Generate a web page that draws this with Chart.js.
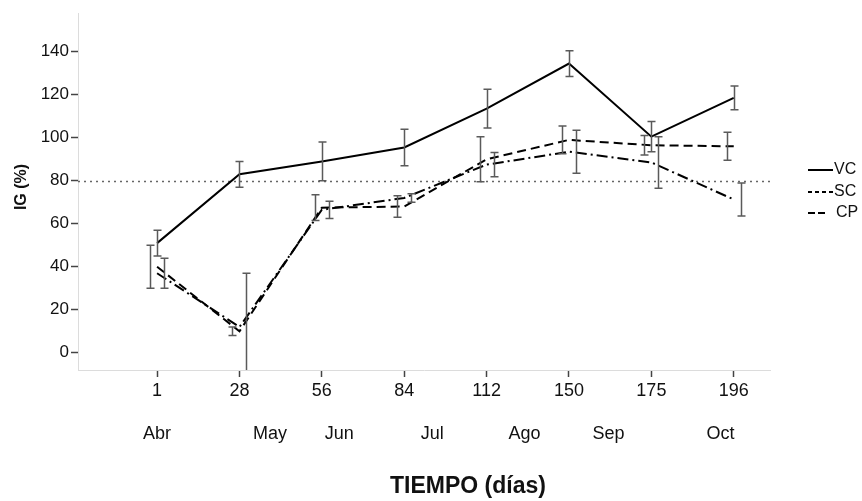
<!DOCTYPE html>
<html>
<head>
<meta charset="utf-8">
<script src="https://cdn.jsdelivr.net/npm/chart.js@4/dist/chart.umd.min.js"></script>
<style>
  html, body { margin: 0; padding: 0; background: #fff; }
  #wrap { width: 862px; height: 501px; }
</style>
</head>
<body>
<div id="wrap"><canvas id="chart" width="862" height="501"></canvas></div>
<script>
// Data
const days = ['1', '28', '56', '84', '112', '150', '175', '196'];
const months = ['Abr', 'May', 'Jun', 'Jul', 'Ago', 'Sep', 'Oct'];
const monthPos = [0, 1.37, 2.21, 3.34, 4.46, 5.48, 6.84];
const yTicks = [0, 20, 40, 60, 80, 100, 120, 140];
const refLevel = 80;

const vc = [51, 83, 89, 95.5, 113.5, 134.5, 100.5, 118.5];
const vcErr = [6, 6, 9, 8.5, 9, 6, 7, 5.5];
const sc = [40, 10, 67.5, 68, 90, 99, 96.5, 96];
const scErr = [10, 2, 6, 5, 10.5, 6.5, 4.5, 6.5];
const cp = [37, 12, 66.5, 72, 87.5, 93.5, 88.5, 71.3];
const cpErr = [7, 25, 4, 2, 5.6, 10, 12, 7.7];

const FONT = 'Liberation Sans, Arial, sans-serif';

const toPts = arr => arr.map((v, i) => ({ x: i, y: v }));

const series = [
  { label: 'VC', data: vc, err: vcErr, dash: [], legendDash: [], off: 0 },
  { label: 'SC', data: sc, err: scErr, dash: [9, 5], legendDash: [4, 3], off: -7 },
  { label: 'CP', data: cp, err: cpErr, dash: [11, 4, 2, 4], legendDash: [7, 3], off: 7 }
];

const extras = {
  id: 'extras',
  beforeDatasetsDraw(chart) {
    // dotted reference line at 80
    const { ctx, chartArea: a, scales: { y } } = chart;
    const yy = Math.round(y.getPixelForValue(refLevel)) + 0.5;
    ctx.save();
    ctx.strokeStyle = '#666';
    ctx.lineWidth = 1.5;
    ctx.setLineDash([2, 4]);
    ctx.beginPath();
    ctx.moveTo(a.left, yy);
    ctx.lineTo(a.right, yy);
    ctx.stroke();
    ctx.restore();
  },
  afterDatasetsDraw(chart) {
    // error bars, dodged a few px per series
    const { ctx, chartArea: a, scales: { x, y } } = chart;
    ctx.save();
    ctx.beginPath();
    ctx.rect(a.left, a.top, a.right - a.left, a.bottom - a.top);
    ctx.clip();
    ctx.strokeStyle = '#5a5a5a';
    ctx.lineWidth = 1.5;
    chart.data.datasets.forEach(ds => {
      ds.err.forEach((e, i) => {
        const px = Math.round(x.getPixelForValue(i) + ds.off) + 0.5;
        const v = ds.values[i];
        const top = y.getPixelForValue(v + e), bot = y.getPixelForValue(v - e);
        ctx.beginPath();
        ctx.moveTo(px, top); ctx.lineTo(px, bot);
        ctx.moveTo(px - 4, top); ctx.lineTo(px + 4, top);
        ctx.moveTo(px - 4, bot); ctx.lineTo(px + 4, bot);
        ctx.stroke();
      });
    });
    ctx.restore();
  },
  afterDraw(chart) {
    const { ctx, scales: { x } } = chart;
    ctx.save();
    ctx.fillStyle = '#111';

    // month row under the day ticks
    ctx.font = '18px ' + FONT;
    ctx.textAlign = 'center';
    ctx.textBaseline = 'middle';
    months.forEach((m, i) => ctx.fillText(m, x.getPixelForValue(monthPos[i]), 434));

    // axis titles
    ctx.font = 'bold 23px ' + FONT;
    ctx.textBaseline = 'alphabetic';
    ctx.fillText('TIEMPO (días)', 468, 493);

    ctx.save();
    ctx.translate(22, 187);
    ctx.rotate(-Math.PI / 2);
    ctx.font = 'bold 16px ' + FONT;
    ctx.textBaseline = 'middle';
    ctx.fillText('IG (%)', 0, 0);
    ctx.restore();

    // legend
    const rows = [170, 192, 213];
    ctx.font = '16px ' + FONT;
    ctx.textAlign = 'left';
    ctx.textBaseline = 'middle';
    chart.data.datasets.forEach((ds, i) => {
      const yy = rows[i];
      ctx.strokeStyle = '#000';
      ctx.lineWidth = 2;
      ctx.setLineDash(ds.legendDash);
      ctx.beginPath();
      ctx.moveTo(808, yy);
      ctx.lineTo(i === 2 ? 826 : 833, yy);
      ctx.stroke();
      ctx.setLineDash([]);
      ctx.fillText(ds.label, i === 2 ? 836 : 834, yy);
    });
    ctx.restore();
  }
};

new Chart(document.getElementById('chart'), {
  type: 'line',
  data: {
    datasets: series.map(s => ({
      label: s.label,
      data: toPts(s.data),
      values: s.data,
      err: s.err,
      off: s.off,
      legendDash: s.legendDash,
      borderColor: '#000',
      borderWidth: 2,
      borderDash: s.dash,
      pointRadius: 0,
      fill: false,
      tension: 0
    }))
  },
  options: {
    responsive: false,
    animation: false,
    devicePixelRatio: 1,
    layout: { padding: { top: 13, right: 92, left: 0, bottom: 0 } },
    plugins: { legend: { display: false }, tooltip: { enabled: false } },
    scales: {
      x: {
        type: 'linear',
        min: -0.96,
        max: 7.44,
        afterBuildTicks: s => { s.ticks = days.map((d, i) => ({ value: i })); },
        afterFit: s => { s.height = 131; },
        ticks: {
          callback: v => days[v],
          color: '#111',
          font: { family: FONT, size: 18 },
          padding: 3,
          maxRotation: 0
        },
        grid: { drawOnChartArea: false, drawTicks: true, tickLength: 7, tickColor: '#444', tickWidth: 1.5 },
        border: { color: '#dcdcdc', width: 1 }
      },
      y: {
        min: -8,
        max: 158,
        afterBuildTicks: s => { s.ticks = yTicks.map(v => ({ value: v })); },
        afterFit: s => { s.width = 78; },
        ticks: {
          color: '#111',
          font: { family: FONT, size: 17 },
          padding: 2
        },
        grid: { drawOnChartArea: false, drawTicks: true, tickLength: 7, tickColor: '#444', tickWidth: 1.5 },
        border: { color: '#dcdcdc', width: 1 }
      }
    }
  },
  plugins: [extras]
});
</script>
</body>
</html>
